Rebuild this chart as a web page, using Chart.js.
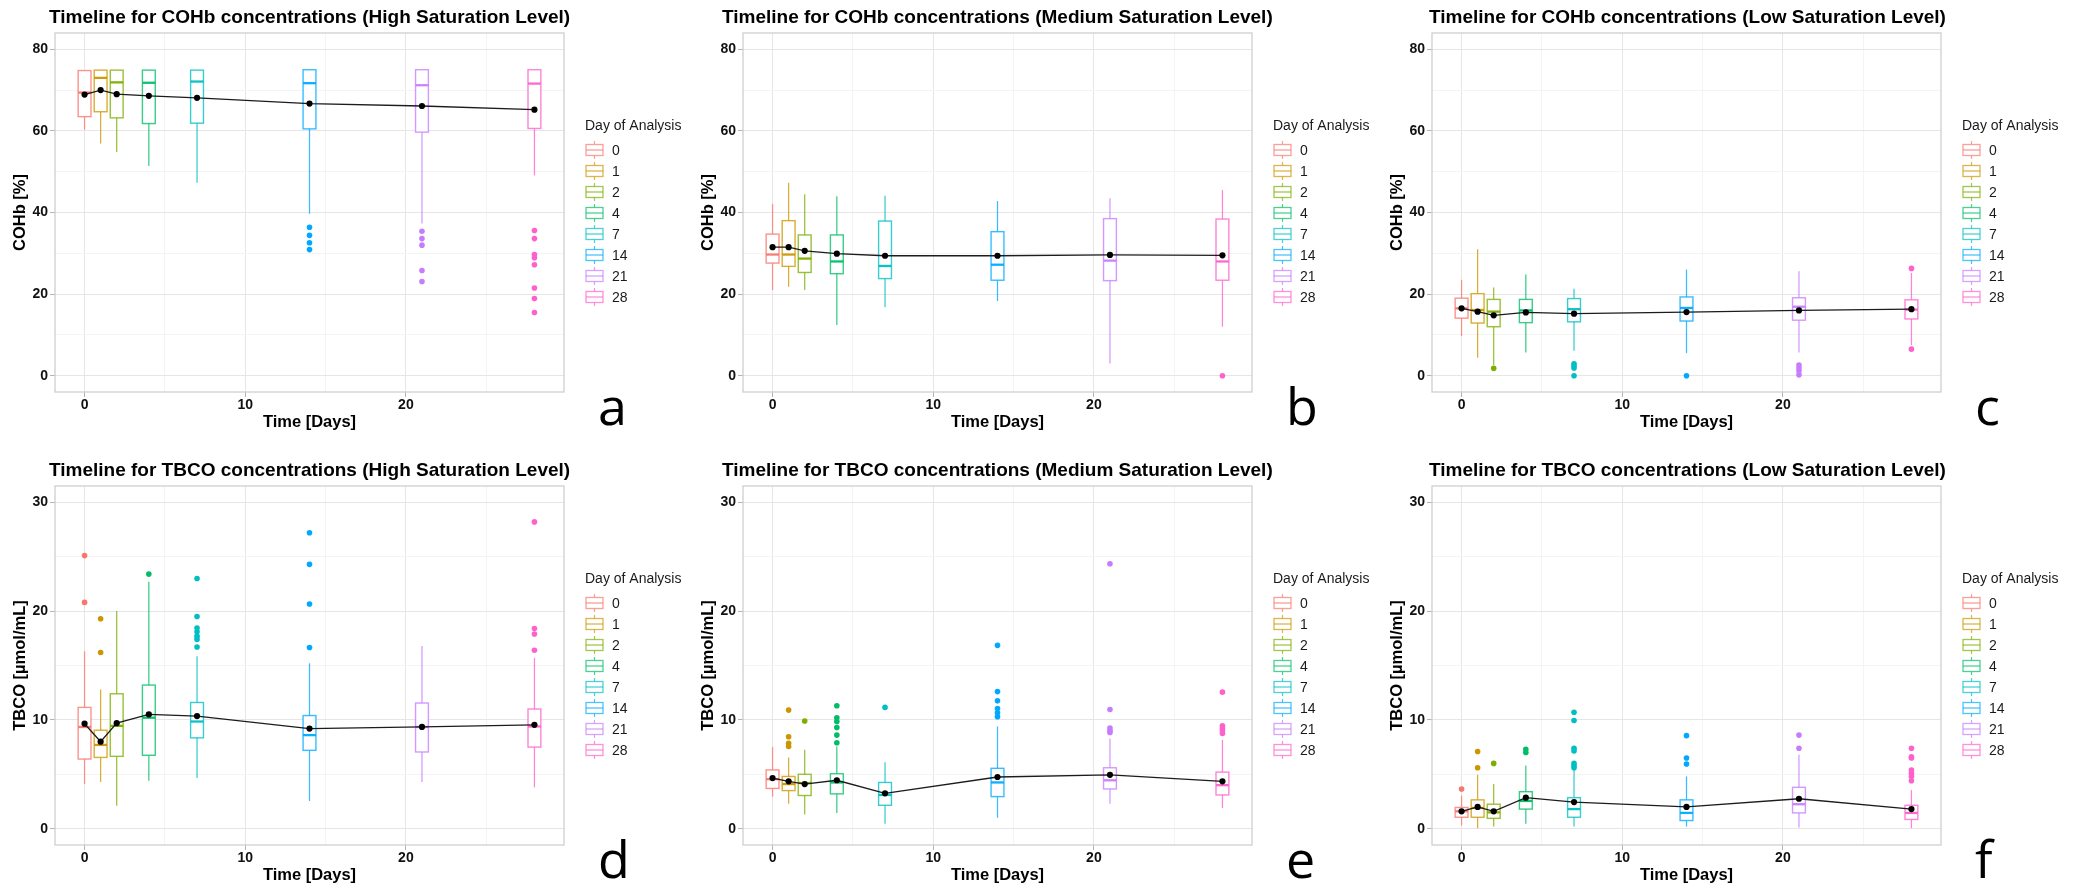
<!DOCTYPE html>
<html><head><meta charset="utf-8">
<script src="https://cdn.jsdelivr.net/npm/chart.js@4.4.1/dist/chart.umd.min.js"></script>
<style>
html,body{margin:0;padding:0;background:#fff;width:2085px;height:889px;overflow:hidden;}
canvas{position:absolute;}
</style></head><body>
<canvas id="pa" width="688" height="436" style="left:0px;top:0px"></canvas>
<canvas id="pb" width="689" height="436" style="left:688px;top:0px"></canvas>
<canvas id="pc" width="708" height="436" style="left:1377px;top:0px"></canvas>
<canvas id="pd" width="688" height="436" style="left:0px;top:453px"></canvas>
<canvas id="pe" width="689" height="436" style="left:688px;top:453px"></canvas>
<canvas id="pf" width="708" height="436" style="left:1377px;top:453px"></canvas>
<script>
// ---- categories ----
const days = [0, 1, 2, 4, 7, 14, 21, 28];
const dayLabels = ['0', '1', '2', '4', '7', '14', '21', '28'];
const cohbTicks = [0, 20, 40, 60, 80];
const tbcoTicks = [0, 10, 20, 30];
const xTicks = [0, 10, 20];

// ---- (a) COHb, high saturation ----
const cohbHighLo   = [60.3, 56.9, 54.8, 51.4, 47.3, 39.7, 37.3, 49.1];
const cohbHighQ1   = [63.5, 64.7, 63.2, 61.8, 61.9, 60.5, 59.7, 60.6];
const cohbHighMed  = [69.4, 73.0, 71.9, 71.8, 72.1, 71.7, 71.2, 71.6];
const cohbHighQ3   = [74.8, 74.9, 74.9, 74.9, 74.9, 75.0, 75.0, 75.0];
const cohbHighHi   = [74.8, 74.9, 74.9, 74.9, 74.9, 75.0, 75.0, 75.0];
const cohbHighMean = [68.9, 70.0, 69.0, 68.6, 68.1, 66.7, 66.1, 65.2];
const cohbHighOut  = [[], [], [], [], [], [36.4, 34.4, 32.6, 30.9], [35.4, 33.6, 32.0, 25.8, 23.1], [35.6, 33.6, 29.7, 28.9, 27.2, 21.5, 18.9, 15.5]];

// ---- (b) COHb, medium saturation ----
const cohbMedLo   = [21.0, 21.8, 21.0, 12.4, 16.8, 18.3, 3.0, 12.0];
const cohbMedQ1   = [27.6, 26.8, 25.3, 25.0, 23.8, 23.4, 23.3, 23.4];
const cohbMedMed  = [29.7, 29.7, 28.7, 28.0, 26.9, 27.2, 28.2, 28.0];
const cohbMedQ3   = [34.7, 38.0, 34.5, 34.5, 37.9, 35.3, 38.5, 38.4];
const cohbMedHi   = [42.1, 47.3, 44.5, 44.0, 44.1, 42.8, 43.5, 45.5];
const cohbMedMean = [31.5, 31.5, 30.6, 29.9, 29.4, 29.4, 29.6, 29.5];
const cohbMedOut  = [[], [], [], [], [], [], [], [0.0]];

// ---- (c) COHb, low saturation ----
const cohbLowLo   = [9.7, 4.4, 2.6, 5.7, 6.1, 5.5, 5.7, 7.5];
const cohbLowQ1   = [14.1, 12.9, 12.0, 13.0, 13.2, 13.4, 13.6, 13.9];
const cohbLowMed  = [16.5, 16.1, 15.7, 16.0, 16.3, 16.6, 16.9, 16.2];
const cohbLowQ3   = [19.0, 20.1, 18.7, 18.7, 18.9, 19.3, 19.1, 18.6];
const cohbLowHi   = [23.5, 31.0, 21.6, 24.8, 21.3, 26.0, 25.6, 25.2];
const cohbLowMean = [16.5, 15.7, 14.8, 15.5, 15.2, 15.6, 16.0, 16.3];
const cohbLowOut  = [[], [], [1.8], [], [2.9, 2.4, 1.9, 0.0], [0.0], [2.6, 1.9, 1.2, 0.2], [26.3, 6.5]];

// ---- (d) TBCO, high saturation ----
const tbcoHighLo   = [4.1, 4.3, 2.1, 4.4, 4.65, 2.55, 4.3, 3.8];
const tbcoHighQ1   = [6.4, 6.55, 6.65, 6.75, 8.35, 7.2, 7.05, 7.5];
const tbcoHighMed  = [9.35, 7.7, 9.45, 10.2, 9.85, 8.6, 9.35, 9.4];
const tbcoHighQ3   = [11.15, 9.05, 12.4, 13.2, 11.6, 10.4, 11.55, 11.0];
const tbcoHighHi   = [16.3, 12.8, 20.0, 22.7, 15.85, 15.2, 16.8, 15.7];
const tbcoHighMean = [9.65, 8.0, 9.7, 10.5, 10.35, 9.2, 9.35, 9.55];
const tbcoHighOut  = [[25.1, 20.8], [19.3, 16.2], [], [23.4], [23.0, 19.5, 18.45, 18.1, 17.7, 17.4, 16.7], [27.2, 24.3, 20.65, 16.65], [], [28.2, 18.4, 17.9, 16.4]];

// ---- (e) TBCO, medium saturation ----
const tbcoMedLo   = [2.95, 2.3, 1.3, 1.45, 0.45, 1.0, 2.3, 1.9];
const tbcoMedQ1   = [3.7, 3.5, 3.05, 3.2, 2.15, 2.95, 3.65, 3.1];
const tbcoMedMed  = [4.55, 4.1, 4.2, 4.25, 3.1, 4.25, 4.45, 4.0];
const tbcoMedQ3   = [5.4, 4.8, 5.0, 5.05, 4.25, 5.55, 5.6, 5.2];
const tbcoMedHi   = [7.5, 6.55, 7.25, 7.55, 6.1, 9.4, 8.3, 8.15];
const tbcoMedMean = [4.65, 4.35, 4.1, 4.45, 3.25, 4.75, 4.95, 4.35];
const tbcoMedOut  = [[], [10.9, 8.45, 7.85, 7.55], [9.9], [11.3, 10.2, 9.85, 9.3, 8.6, 7.9], [11.15], [16.85, 12.6, 11.75, 11.05, 10.65, 10.3], [24.35, 10.95, 9.25, 9.0, 8.85], [12.55, 9.45, 9.2, 9.0, 8.75]];

// ---- (f) TBCO, low saturation ----
const tbcoLowLo   = [0.3, 0.05, 0.2, 0.45, 0.2, 0.2, 0.1, 0.05];
const tbcoLowQ1   = [1.05, 1.05, 0.95, 1.8, 1.05, 0.75, 1.45, 0.85];
const tbcoLowMed  = [1.6, 1.9, 1.5, 2.55, 1.8, 1.45, 2.25, 1.45];
const tbcoLowQ3   = [1.95, 2.65, 2.25, 3.4, 2.85, 2.65, 3.8, 2.15];
const tbcoLowHi   = [3.05, 4.95, 4.1, 5.8, 5.4, 4.8, 6.8, 3.55];
const tbcoLowMean = [1.6, 2.0, 1.6, 2.85, 2.45, 2.0, 2.75, 1.8];
const tbcoLowOut  = [[3.65], [7.1, 5.6], [6.0], [7.3, 7.0], [10.7, 9.95, 7.4, 7.15, 6.0, 5.8, 5.6], [8.55, 6.5, 5.95], [8.6, 7.4], [7.4, 6.6, 6.5, 5.4, 5.1, 4.8, 4.4]];

// ---- styling ----
const dayColors = ['#F8766D', '#CD9600', '#7CAE00', '#00BE67', '#00BFC4', '#00A9FF', '#C77CFF', '#FF61CC'];
const FONT = '"Liberation Sans", Arial, Helvetica, sans-serif';
function rgba(hex, a) {
  const n = parseInt(hex.slice(1), 16);
  return 'rgba(' + ((n >> 16) & 255) + ',' + ((n >> 8) & 255) + ',' + (n & 255) + ',' + a + ')';
}

const boxPlugin = {
  id: 'boxplot',
  beforeDatasetsDraw(chart, args, o) {
    const ctx = chart.ctx, x = chart.scales.x, y = chart.scales.y, ca = chart.chartArea;
    ctx.save();
    ctx.beginPath(); ctx.rect(ca.left, ca.top, ca.right - ca.left, ca.bottom - ca.top); ctx.clip();
    const line = (x1, y1, x2, y2) => { ctx.beginPath(); ctx.moveTo(x1, y1); ctx.lineTo(x2, y2); ctx.stroke(); };
    days.forEach((d, i) => {
      const col = dayColors[i];
      const xl = x.getPixelForValue(d - 0.4), xr = x.getPixelForValue(d + 0.4), xc = x.getPixelForValue(d);
      const yLo = y.getPixelForValue(o.lo[i]), yQ1 = y.getPixelForValue(o.q1[i]);
      const yMed = y.getPixelForValue(o.med[i]), yQ3 = y.getPixelForValue(o.q3[i]);
      const yHi = y.getPixelForValue(o.hi[i]);
      ctx.strokeStyle = rgba(col, 0.78);
      ctx.lineWidth = 1.25;
      line(xc, yQ3, xc, yHi);
      line(xc, yQ1, xc, yLo);
      ctx.fillStyle = '#ffffff';
      ctx.fillRect(xl, yQ3, xr - xl, yQ1 - yQ3);
      ctx.lineWidth = 1.4;
      ctx.strokeRect(xl, yQ3, xr - xl, yQ1 - yQ3);
      ctx.strokeStyle = rgba(col, 0.95);
      ctx.lineWidth = 2.3;
      line(xl, yMed, xr, yMed);
    });
    ctx.restore();
  }
};

const decoPlugin = {
  id: 'deco',
  afterDraw(chart, args, o) {
    const ctx = chart.ctx, ca = chart.chartArea;
    ctx.save();
    ctx.strokeStyle = '#cfcfcf'; ctx.lineWidth = 1.3;
    ctx.strokeRect(ca.left, ca.top, ca.right - ca.left, ca.bottom - ca.top);
    ctx.fillStyle = '#000'; ctx.textAlign = 'left'; ctx.textBaseline = 'alphabetic';
    ctx.font = 'bold 19px ' + FONT;
    ctx.fillText(o.title, o.titleX, 23);
    ctx.font = '52px "Open Sans", sans-serif';
    ctx.fillText(o.letter, ca.right + 34, 425);
    ctx.font = '14px ' + FONT; ctx.fillStyle = '#1a1a1a'; ctx.textBaseline = 'middle';
    ctx.fillText('Day of Analysis', ca.right + 21, 126);
    dayLabels.forEach((lab, i) => {
      const cy = 150 + 21 * i, col = dayColors[i];
      const kx = ca.right + 22, kw = 17;
      ctx.strokeStyle = rgba(col, 0.7); ctx.lineWidth = 1.2;
      ctx.beginPath(); ctx.moveTo(kx + kw / 2, cy - 9); ctx.lineTo(kx + kw / 2, cy - 5.5);
      ctx.moveTo(kx + kw / 2, cy + 5.5); ctx.lineTo(kx + kw / 2, cy + 9); ctx.stroke();
      ctx.fillStyle = '#fff'; ctx.fillRect(kx, cy - 5.5, kw, 11);
      ctx.lineWidth = 1.3; ctx.strokeRect(kx, cy - 5.5, kw, 11);
      ctx.beginPath(); ctx.moveTo(kx, cy); ctx.lineTo(kx + kw, cy); ctx.stroke();
      ctx.fillStyle = '#1a1a1a';
      ctx.fillText(lab, ca.right + 48, cy + 1);
    });
    ctx.restore();
  }
};

const panels = [
  {id: 'pa', w: 688, title: 'Timeline for COHb concentrations (High Saturation Level)', titleX: 49, letter: 'a', yTitle: 'COHb [%]', yMin: -4, yMax: 84, yStep: 10, major: cohbTicks,
   lo: cohbHighLo, q1: cohbHighQ1, med: cohbHighMed, q3: cohbHighQ3, hi: cohbHighHi, mean: cohbHighMean, out: cohbHighOut},
  {id: 'pb', w: 689, title: 'Timeline for COHb concentrations (Medium Saturation Level)', titleX: 34, letter: 'b', yTitle: 'COHb [%]', yMin: -4, yMax: 84, yStep: 10, major: cohbTicks,
   lo: cohbMedLo, q1: cohbMedQ1, med: cohbMedMed, q3: cohbMedQ3, hi: cohbMedHi, mean: cohbMedMean, out: cohbMedOut},
  {id: 'pc', w: 708, title: 'Timeline for COHb concentrations (Low Saturation Level)', titleX: 52, letter: 'c', yTitle: 'COHb [%]', yMin: -4, yMax: 84, yStep: 10, major: cohbTicks,
   lo: cohbLowLo, q1: cohbLowQ1, med: cohbLowMed, q3: cohbLowQ3, hi: cohbLowHi, mean: cohbLowMean, out: cohbLowOut},
  {id: 'pd', w: 688, title: 'Timeline for TBCO concentrations (High Saturation Level)', titleX: 49, letter: 'd', yTitle: 'TBCO [µmol/mL]', yMin: -1.5, yMax: 31.5, yStep: 5, major: tbcoTicks,
   lo: tbcoHighLo, q1: tbcoHighQ1, med: tbcoHighMed, q3: tbcoHighQ3, hi: tbcoHighHi, mean: tbcoHighMean, out: tbcoHighOut},
  {id: 'pe', w: 689, title: 'Timeline for TBCO concentrations (Medium Saturation Level)', titleX: 34, letter: 'e', yTitle: 'TBCO [µmol/mL]', yMin: -1.5, yMax: 31.5, yStep: 5, major: tbcoTicks,
   lo: tbcoMedLo, q1: tbcoMedQ1, med: tbcoMedMed, q3: tbcoMedQ3, hi: tbcoMedHi, mean: tbcoMedMean, out: tbcoMedOut},
  {id: 'pf', w: 708, title: 'Timeline for TBCO concentrations (Low Saturation Level)', titleX: 52, letter: 'f', yTitle: 'TBCO [µmol/mL]', yMin: -1.5, yMax: 31.5, yStep: 5, major: tbcoTicks,
   lo: tbcoLowLo, q1: tbcoLowQ1, med: tbcoLowMed, q3: tbcoLowQ3, hi: tbcoLowHi, mean: tbcoLowMean, out: tbcoLowOut}
];

panels.forEach(p => {
  const meanData = days.map((d, i) => ({x: d, y: p.mean[i]}));
  const outData = [], outColors = [];
  p.out.forEach((arr, i) => arr.forEach(v => { outData.push({x: days[i], y: v}); outColors.push(dayColors[i]); }));
  const isMajorX = v => xTicks.includes(v);
  const isMajorY = v => p.major.includes(v);
  new Chart(document.getElementById(p.id), {
    type: 'scatter',
    data: {
      datasets: [
        {type: 'scatter', data: outData, pointBackgroundColor: outColors, pointBorderWidth: 0, pointRadius: 2.8, order: 2},
        {type: 'line', data: meanData, borderColor: '#1c1c1c', borderWidth: 1.3, tension: 0,
         pointRadius: 3.1, pointBackgroundColor: '#000', pointBorderWidth: 0, order: 1}
      ]
    },
    options: {
      responsive: false, animation: false, events: [],
      layout: {padding: {top: 33, left: 0, right: p.w - 564, bottom: 0}},
      plugins: {
        legend: {display: false}, tooltip: {enabled: false},
        boxplot: {lo: p.lo, q1: p.q1, med: p.med, q3: p.q3, hi: p.hi},
        deco: {title: p.title, titleX: p.titleX, letter: p.letter}
      },
      scales: {
        x: {
          type: 'linear', min: -1.84, max: 29.84,
          afterFit: s => { s.height = 44; },
          border: {display: false},
          ticks: {stepSize: 5, autoSkip: false, includeBounds: false, maxRotation: 0, padding: 0,
            callback: v => isMajorX(v) ? String(v) : '',
            color: '#111', font: {family: FONT, size: 14, weight: 'bold'}},
          grid: {lineWidth: 1, tickLength: 5,
            color: c => (c.tick && isMajorX(c.tick.value)) ? '#e6e6e6' : '#f4f4f4',
            tickColor: c => (c.tick && isMajorX(c.tick.value)) ? '#b3b3b3' : 'rgba(0,0,0,0)'},
          title: {display: true, text: 'Time [Days]', color: '#000',
            font: {family: FONT, size: 16.5, weight: 'bold'}, padding: {top: 0, bottom: 4}}
        },
        y: {
          type: 'linear', min: p.yMin, max: p.yMax,
          afterFit: s => { s.width = 55; },
          border: {display: false},
          ticks: {stepSize: p.yStep, autoSkip: false, includeBounds: false, padding: 2,
            callback: v => isMajorY(v) ? String(v) : '',
            color: '#111', font: {family: FONT, size: 14, weight: 'bold'}},
          grid: {lineWidth: 1, tickLength: 5,
            color: c => (c.tick && isMajorY(c.tick.value)) ? '#e6e6e6' : '#f4f4f4',
            tickColor: c => (c.tick && isMajorY(c.tick.value)) ? '#b3b3b3' : 'rgba(0,0,0,0)'},
          title: {display: true, text: p.yTitle, color: '#000',
            font: {family: FONT, size: 16.5, weight: 'bold'}, padding: {top: 11, bottom: 0}}
        }
      }
    },
    plugins: [boxPlugin, decoPlugin]
  });
});
</script>
</body></html>
